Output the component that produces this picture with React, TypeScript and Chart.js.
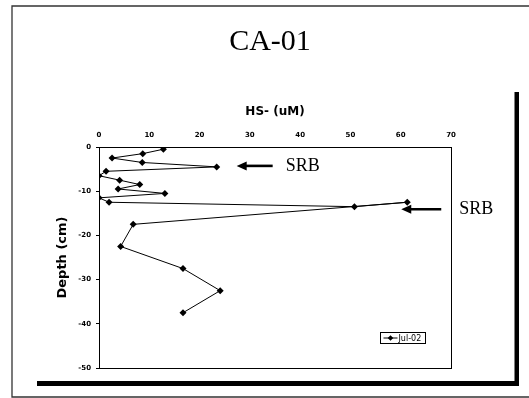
import React, { useEffect, useRef } from 'react';
import { Chart, registerables } from 'chart.js';

Chart.register(...registerables);

const CHART_TITLE = 'CA-01';
const SERIES_LABEL = 'Jul-02';
const X_TITLE = 'HS- (uM)';
const Y_TITLE = 'Depth (cm)';
const HS_UM = [12.8, 8.7, 2.6, 8.6, 23.4, 1.4, 0, 4.1, 8.1, 3.8, 13.1, 0, 2.0, 50.8, 61.3, 6.8, 4.3, 16.7, 24.1, 16.7];
const DEPTH_CM = [-0.5, -1.5, -2.5, -3.5, -4.5, -5.5, -6.5, -7.5, -8.5, -9.5, -10.5, -11.5, -12.5, -13.5, -12.5, -17.5, -22.5, -27.5, -32.5, -37.5];
const X_TICKS = [0, 10, 20, 30, 40, 50, 60, 70];
const Y_TICKS = [0, -10, -20, -30, -40, -50];
const ANNOTATION_LABELS = ['SRB', 'SRB'];
const ANNOTATION_POINT_INDEX = [4, 14];

const decorPlugin = {
  id: 'decor',
  beforeDraw(chart: any) {
    const { ctx, width, height } = chart;
    ctx.save();
    ctx.fillStyle = '#fff';
    ctx.fillRect(0, 0, width, height);
    ctx.restore();
  },
  afterDraw(chart: any) {
    const { ctx, chartArea: a, scales } = chart;
    const xs = scales.x;
    const ys = scales.y;
    ctx.save();
    // plot area border
    ctx.strokeStyle = '#000';
    ctx.lineWidth = 1;
    ctx.strokeRect(Math.round(a.left) + 0.5, Math.round(a.top) + 0.5, Math.round(a.right - a.left), Math.round(a.bottom - a.top));

    // outer frame
    ctx.strokeStyle = '#333';
    ctx.lineWidth = 1.3;
    ctx.beginPath();
    ctx.moveTo(529, 6);
    ctx.lineTo(12, 6);
    ctx.lineTo(12, 397);
    ctx.lineTo(529, 397);
    ctx.stroke();
    ctx.fillStyle = '#000';
    ctx.fillRect(514.5, 92, 4.5, 294);
    ctx.fillRect(37, 381, 482, 5);

    // chart title
    ctx.fillStyle = '#000';
    ctx.font = '30px "Liberation Serif", "Times New Roman", serif';
    ctx.textAlign = 'center';
    ctx.textBaseline = 'middle';
    ctx.fillText(CHART_TITLE, 270, 42);

    // SRB arrows
    const offsets = [
      { tip: 20, tail: 56, text: 69, dy: -1 },
      { tip: -6, tail: 34, text: 52, dy: 7 },
    ];
    ANNOTATION_POINT_INDEX.forEach((idx, i) => {
      const px = xs.getPixelForValue(HS_UM[idx]);
      const py = ys.getPixelForValue(DEPTH_CM[idx]) + offsets[i].dy;
      const tip = px + offsets[i].tip;
      const tail = px + offsets[i].tail;
      ctx.strokeStyle = '#000';
      ctx.lineWidth = 2.6;
      ctx.beginPath();
      ctx.moveTo(tip + 8, py);
      ctx.lineTo(tail, py);
      ctx.stroke();
      ctx.beginPath();
      ctx.moveTo(tip, py);
      ctx.lineTo(tip + 10, py - 4.5);
      ctx.lineTo(tip + 10, py + 4.5);
      ctx.closePath();
      ctx.fill();
      ctx.font = '18px "Liberation Serif", "Times New Roman", serif';
      ctx.textAlign = 'left';
      ctx.textBaseline = 'middle';
      ctx.fillText(ANNOTATION_LABELS[i], px + offsets[i].text, py);
    });

    // legend box
    const lx = 380.5, ly = 332.5, lw = 45, lh = 11;
    ctx.strokeStyle = '#000';
    ctx.lineWidth = 1;
    ctx.strokeRect(lx, ly, lw, lh);
    ctx.beginPath();
    ctx.moveTo(lx + 3, ly + lh / 2);
    ctx.lineTo(lx + 17, ly + lh / 2);
    ctx.stroke();
    const dx = lx + 10, dyy = ly + lh / 2;
    ctx.beginPath();
    ctx.moveTo(dx, dyy - 2.8);
    ctx.lineTo(dx + 2.8, dyy);
    ctx.lineTo(dx, dyy + 2.8);
    ctx.lineTo(dx - 2.8, dyy);
    ctx.closePath();
    ctx.fill();
    ctx.font = '8px "DejaVu Sans", Verdana, sans-serif';
    ctx.textAlign = 'left';
    ctx.textBaseline = 'middle';
    ctx.fillText(chart.data.datasets[0].label, lx + 18, dyy + 0.5);
    ctx.restore();
  },
};

export default function App() {
  const ref = useRef<HTMLCanvasElement>(null);
  useEffect(() => {
    const canvas = ref.current;
    if (!canvas) return;
    const points = HS_UM.map((x, i) => ({ x, y: DEPTH_CM[i] }));
    const tickFont = { family: '"DejaVu Sans", Verdana, sans-serif', size: 7, weight: 'bold' as const };
    const chart = new Chart(canvas, {
      type: 'scatter',
      data: {
        datasets: [
          {
            label: SERIES_LABEL,
            data: points,
            showLine: true,
            borderColor: '#000',
            backgroundColor: '#000',
            borderWidth: 1,
            pointStyle: 'rectRot',
            pointRadius: 3.5,
            pointBorderWidth: 0,
            tension: 0,
          },
        ],
      },
      options: {
        responsive: false,
        animation: false,
        layout: { padding: { left: 55, right: 78, top: 105, bottom: 30 } },
        plugins: {
          legend: { display: false },
          tooltip: { enabled: false },
          title: { display: false },
        },
        scales: {
          x: {
            type: 'linear',
            position: 'top',
            min: 0,
            max: 70,
            afterBuildTicks: (s: any) => {
              s.ticks = X_TICKS.map((v) => ({ value: v }));
            },
            afterFit: (s: any) => {
              s.height = 42;
            },
            ticks: { color: '#000', font: tickFont, padding: 8, maxRotation: 0 },
            grid: { display: false, drawTicks: false },
            border: { display: false },
            title: {
              display: true,
              text: X_TITLE,
              color: '#000',
              font: { family: '"DejaVu Sans", Verdana, sans-serif', size: 12, weight: 'bold' },
              padding: { top: 0, bottom: 0 },
            },
          },
          y: {
            type: 'linear',
            min: -50,
            max: 0,
            afterBuildTicks: (s: any) => {
              s.ticks = Y_TICKS.map((v) => ({ value: v }));
            },
            afterFit: (s: any) => {
              s.width = 44;
            },
            ticks: { color: '#000', font: tickFont, padding: 5 },
            grid: { display: true, drawOnChartArea: false, drawTicks: true, tickLength: 3, color: '#000' },
            border: { display: false },
            title: {
              display: true,
              text: Y_TITLE,
              color: '#000',
              font: { family: '"DejaVu Sans", Verdana, sans-serif', size: 13, weight: 'bold' },
              padding: { top: 0, bottom: 0 },
            },
          },
        },
      },
      plugins: [decorPlugin],
    });
    return () => chart.destroy();
  }, []);
  return (
    <div style={{ position: 'absolute', left: 0, top: 0, width: 529, height: 398 }}>
      <canvas ref={ref} width={529} height={398} style={{ display: 'block', width: 529, height: 398 }} />
    </div>
  );
}
